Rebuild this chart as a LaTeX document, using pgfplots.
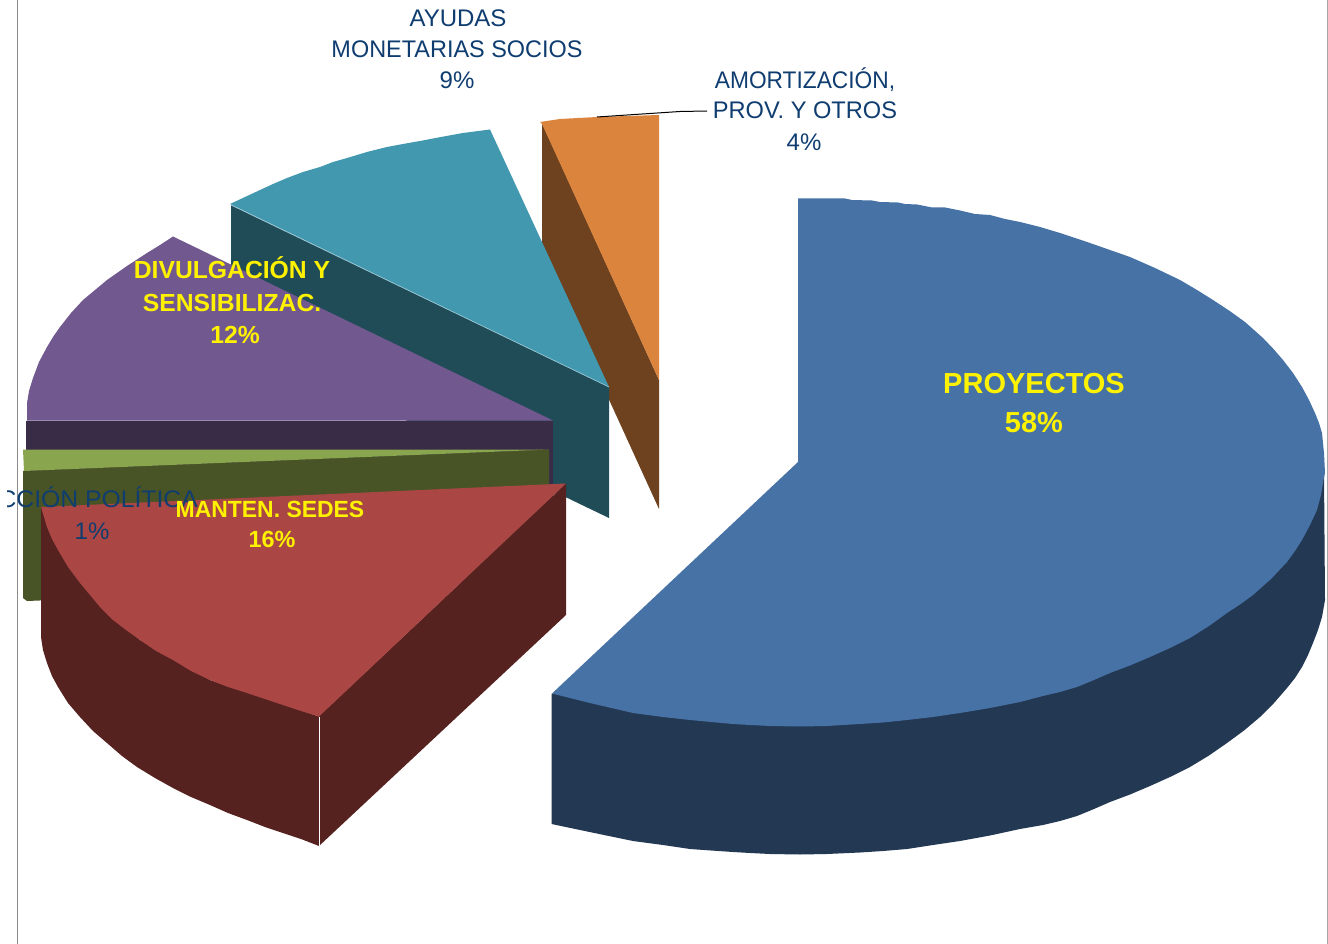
\documentclass[border=0pt]{standalone}
\usepackage{pgfplots}
\pgfplotsset{compat=1.18}
\usepackage{fontspec}
\setmainfont{Liberation Sans}
\definecolor{blueTop}{HTML}{4672A6}
\definecolor{blueWall}{HTML}{233852}
\definecolor{redTop}{HTML}{AA4644}
\definecolor{redWall}{HTML}{552220}
\definecolor{greenTop}{HTML}{89A54E}
\definecolor{greenWall}{HTML}{485426}
\definecolor{purpleTop}{HTML}{71588F}
\definecolor{purpleWall}{HTML}{392C47}
\definecolor{tealTop}{HTML}{4198AF}
\definecolor{tealWall}{HTML}{204C58}
\definecolor{orangeTop}{HTML}{DB843D}
\definecolor{orangeWall}{HTML}{6E421F}
\definecolor{labelBlue}{HTML}{0F3D70}
\newcommand{\plain}{\fontsize{24}{30}\selectfont\color{labelBlue}}
\newcommand{\onslice}[1]{\fontsize{#1}{34}\selectfont\bfseries\color{yellow}}
\begin{document}
\begin{tikzpicture}[x=1pt,y=1pt]
\begin{axis}[
  scale only axis, width=1328pt, height=944pt,
  xmin=0, xmax=1328, ymin=0, ymax=944, y dir=reverse,
  hide axis, clip=true,
  every axis plot/.append style={draw=none, line width=0pt},
]
% page background and frame rules
\addplot[fill=white] coordinates {(0,0) (1328,0) (1328,944) (0,944)};
\addplot[draw=gray!90, line width=1.2pt, fill=none] coordinates {(17.5,0) (17.5,944)};
\addplot[draw=gray!70, line width=1.2pt, fill=none] coordinates {(1327.3,0) (1327.3,944)};

% AMORTIZACION slice
\addplot[fill=orangeWall] coordinates {(542,123) (659,380) (659,509) (542,253)};
\addplot[fill=orangeTop] coordinates {(540,122) (560,119) (597,117) (659,115) (659,380) (542,124)};
\addplot[draw=black, line width=1pt, fill=none] coordinates {(597,117) (680,111.5) (707,111)};

% AYUDAS slice
\addplot[fill=tealWall] coordinates {(231,205) (609,387) (609,518) (231,336)};
\addplot[fill=tealTop] coordinates {(230,204) (245,197) (260,190) (273,184) (287,178) (303,172) (320,167) (333,162) (347,158) (367,152) (387,147) (403,144) (420,141) (441,137) (463,133) (490,129.5) (609,387)};
\addplot[draw=tealTop!55!white, line width=0.7pt, fill=none] coordinates {(231,205) (609,387)};

% DIVULGACION slice
\addplot[fill=purpleWall] coordinates {(26,421) (553,421) (553,550) (26,550)};
\addplot[fill=purpleTop] coordinates {(173,236.5) (160,245) (147,253) (127,266) (107,280) (95,290) (83,300) (71,313) (60,327) (53,337) (47,347) (39,362) (33,378) (29,391) (27,403) (27,420.5) (553,420.5)};
\addplot[draw=purpleTop!70!white, line width=0.6pt, fill=none] coordinates {(27,420.5) (400,420.5)};

% ACCION POLITICA slice
\addplot[fill=greenWall] coordinates {(23,471) (549,449.5) (549,580) (27,601) (23,598)};
\addplot[fill=greenTop] coordinates {(23,449.5) (549,449.5) (24,471)};

% MANTEN. SEDES slice
\addplot[fill=redWall] coordinates {(566,483.5) (566,615) (319,846) (319,716)};
\addplot[fill=redWall] coordinates {(41,507) (80,583) (140,640) (210,680) (319,716.5) (319,846) (301,839) (283,833) (265,827) (247,820) (228,813) (210,805) (191,797) (173,788) (155,778) (137,767) (122,756) (107,743) (93,731) (80,717) (68,703) (58,687) (52,676) (47,663) (43,650) (41,637)};
\addplot[fill=redTop] coordinates {(41,507) (566,483.5) (319,716.5) (301,711) (283,705) (265,699) (247,693) (228,687) (210,680) (191,671) (173,660) (156,651) (140,640) (126,630) (113,620) (100,607) (90,595) (80,583) (68,567) (58,550) (52,539) (47,527) (44,517)};
\addplot[draw=white, line width=1pt, fill=none] coordinates {(319,716.5) (319,846)};

% PROYECTOS slice
\addplot[fill=blueWall] coordinates {(551.5,693.5) (800,700) (1324,473) (1325,600) (1322,617) (1318,630) (1313,643) (1308,655) (1302,667) (1295,678) (1287,688) (1274,703) (1260,717) (1244,730.5) (1227,743) (1209,755.5) (1190,767) (1170,777) (1150,786) (1130,794.5) (1110,802) (1094,809) (1077,816) (1060,821) (1043,825) (1020,829) (990,835.5) (960,841) (933,845) (907,849) (883,851) (860,852.5) (827,854) (800,854.5) (770,854) (750,853) (733,852) (711,850.5) (690,849) (663,845) (633,841) (592,832.5) (551.5,824)};
\addplot[fill=blueTop] coordinates {(798,198.5) (845,198.5) (852,200) (872,200.5) (880,202) (898,202.5) (905,204) (917,204.5) (932,207.5) (945,207.5) (960,210.5) (975,214) (990,215) (1005,219) (1020,222) (1040,227) (1060,233) (1075,238) (1090,243) (1110,250) (1130,257) (1155,268) (1180,280) (1197,290) (1213,300) (1229,310.5) (1245,322) (1254,330) (1263,338) (1273,348.5) (1283,360) (1293,373) (1302,387) (1309,400) (1315,413) (1319,423) (1322,433) (1324,453) (1325,473) (1323.5,480) (1321,495) (1317,510) (1310,525) (1302,540) (1295,551) (1287,562) (1271,579) (1253,595) (1240,604.5) (1227,613) (1209,626) (1190,638) (1170,648) (1150,657) (1130,665.5) (1110,673) (1094,680) (1077,687) (1060,692) (1043,696) (1020,702) (990,708) (960,713) (933,717) (907,720) (883,722.5) (860,724) (827,726) (800,726.5) (770,726) (750,725) (733,724) (711,722) (690,720) (663,717) (633,713) (592,703.5) (552,693.5) (798,462)};

% labels outside the pie
\node[anchor=base] at (axis cs:458,27) {\plain AYUDAS};
\node[anchor=base, xscale=0.977] at (axis cs:457,58) {\plain MONETARIAS SOCIOS};
\node[anchor=base] at (axis cs:457,89) {\plain 9\%};
\node[anchor=base, xscale=0.947] at (axis cs:805,89) {\plain AMORTIZACIÓN,};
\node[anchor=base, xscale=0.984] at (axis cs:805,119) {\plain PROV. Y OTROS};
\node[anchor=base] at (axis cs:804,150.5) {\plain 4\%};
\begin{scope}
\clip (axis cs:7,470) rectangle (axis cs:320,560);
\node[anchor=base east, inner sep=0pt, xscale=1.03] at (axis cs:198,507) {\plain ACCIÓN POLÍTICA};
\end{scope}
\node[anchor=base] at (axis cs:92,539.5) {\plain 1\%};

% labels on the slices
\node[anchor=base] at (axis cs:1034,393) {\onslice{29} PROYECTOS};
\node[anchor=base] at (axis cs:1034,432) {\onslice{29} 58\%};
\node[anchor=base] at (axis cs:232,278) {\onslice{24.7} DIVULGACIÓN Y};
\node[anchor=base] at (axis cs:232,311) {\onslice{24.7} SENSIBILIZAC.};
\node[anchor=base] at (axis cs:235,343.5) {\onslice{24.7} 12\%};
\node[anchor=base, xscale=0.98] at (axis cs:270,517) {\onslice{23.4} MANTEN. SEDES};
\node[anchor=base] at (axis cs:272,547.5) {\onslice{23.4} 16\%};
\end{axis}
\end{tikzpicture}
\end{document}
